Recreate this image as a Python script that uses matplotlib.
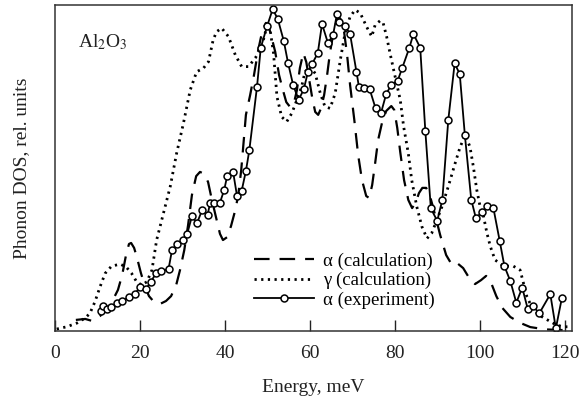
import numpy as np
import matplotlib.pyplot as plt

plt.rcParams['font.family'] = ['Liberation Serif', 'DejaVu Serif']
plt.rcParams['mathtext.fontset'] = 'stix'

# --------------------------------------------------
# DATA
# --------------------------------------------------
# alpha-Al2O3, calculation (dashed)
calc_a_E = [4.9, 7.1, 8.7, 10.6, 12.5, 13.6, 14.8, 15.8, 16.7, 17.4, 17.9, 18.6,
            19.3, 20.2, 21.2, 22.1, 23.3, 24.7, 26.1, 27.3, 28.5, 29.4, 30.4,
            31.3, 32.2, 33.2, 34.1, 35.1, 36.0, 36.9, 37.9, 38.8, 39.5, 40.5,
            41.4, 42.4, 43.1, 43.8, 44.2, 44.9, 45.9, 46.8, 47.8, 48.7, 49.6,
            50.1, 50.8, 51.8, 52.7, 53.6, 54.4, 55.3, 56.2, 56.9, 57.6, 58.4,
            59.1, 59.8, 60.5, 61.2, 61.9, 62.6, 63.3, 64.0, 64.7, 65.6, 66.6,
            67.3, 68.0, 68.7, 69.4, 70.4, 71.3, 72.2, 73.2, 73.9, 74.6, 75.3,
            76.0, 76.9, 77.9, 79.1, 79.8, 80.5, 81.2, 82.1, 83.1, 84.0, 84.9,
            85.6, 86.4, 87.3, 88.2, 89.4, 90.6, 92.0, 93.4, 94.8, 96.0, 97.4,
            98.8, 100.2, 101.4, 102.6, 103.8, 105.2, 107.1, 109.4, 111.8,
            115.3, 118.8, 121.2]
calc_a_dos = [3.4, 3.7, 3.1, 4.6, 7.1, 9.5, 12.6, 17.2, 23.3, 26.7, 27.0, 25.5,
              22.4, 17.8, 13.5, 10.7, 8.9, 8.3, 9.2, 10.7, 14.1, 18.7, 24.8,
              32.5, 41.7, 47.5, 48.8, 48.2, 45.7, 40.2, 34.7, 29.8, 27.9, 28.8,
              32.2, 37.1, 41.7, 49.4, 55.5, 66.3, 72.4, 78.5, 86.2, 91.7, 94.5,
              94.2, 90.8, 85.6, 78.5, 73.9, 70.2, 68.7, 69.9, 73.9, 80.7, 85.3,
              82.5, 77.0, 71.5, 67.2, 66.3, 68.4, 72.4, 78.5, 85.6, 92.3, 96.6,
              95.4, 91.7, 84.7, 75.5, 64.7, 54.0, 46.3, 41.4, 40.8, 44.8, 51.5,
              58.6, 63.8, 67.5, 69.0, 67.8, 62.3, 54.9, 46.3, 40.2, 37.7, 39.6,
              42.3, 43.9, 43.9, 41.4, 35.6, 29.4, 23.3, 20.2, 20.6, 19.3, 16.3,
              14.4, 15.6, 16.9, 14.7, 10.7, 7.1, 4.3, 2.5, 1.2,
              0.5, 0.3, 0.3]

# gamma-Al2O3, calculation (dotted)
calc_g_E = [0.4, 2.75, 5.1, 7.1, 8.2, 9.4, 10.6, 11.8, 13.3, 15.3, 16.7, 18.0,
            19.2, 20.4, 21.6, 22.8, 23.9, 25.5, 27.1, 28.6, 30.2, 31.8, 33.3,
            34.9, 36.1, 37.2, 38.0, 39.2, 40.8, 42.4, 43.9, 45.5, 47.1, 48.6,
            49.8, 50.6, 51.4, 52.2, 53.3, 54.5, 55.7, 56.9, 58.0, 58.8, 60.0,
            61.2, 62.4, 63.5, 64.7, 65.9, 67.1, 68.2, 69.4, 70.6, 71.8, 73.3,
            74.5, 75.3, 76.5, 77.2, 78.0, 78.8, 80.0, 81.2, 82.0, 83.1, 83.9,
            85.1, 86.3, 87.5, 88.6, 89.8, 91.0, 92.5, 94.1, 95.3, 96.5, 97.6,
            98.4, 99.2, 100.0, 100.8, 101.6, 102.4, 103.5, 105.5, 107.8, 109.4,
            110.2, 111.0, 112.5, 114.5, 116.5, 118.0, 119.6, 121.2]
calc_g_dos = [0.6, 1.3, 2.4, 4.0, 5.4, 9.0, 13.6, 17.7, 19.9, 20.5, 19.7, 17.7,
              15.1, 14.1, 15.1, 18.7, 27.9, 36.1, 44.3, 54.5, 63.7, 73.9, 79.5,
              80.6, 82.6, 89.3, 91.8, 92.9, 90.3, 84.7, 81.1, 81.1, 83.7, 87.2,
              93.3, 92.3, 85.2, 71.9, 65.7, 64.2, 66.8, 70.9, 74.9, 79.5, 81.1,
              79.0, 72.9, 68.8, 68.3, 72.9, 83.1, 91.3, 96.4, 98.5, 97.5, 93.3,
              90.3, 93.9, 95.2, 94.4, 90.3, 85.2, 78.0, 70.9, 62.7, 54.5, 46.3,
              38.1, 32.0, 28.4, 30.0, 34.0, 38.1, 44.3, 51.4, 56.5, 60.1, 56.5,
              50.4, 43.3, 38.1, 35.1, 30.0, 25.9, 21.8, 19.9, 19.9, 18.7,
              14.6, 10.5, 6.4, 4.4, 2.9, 1.8, 1.3, 1.3]

# alpha-Al2O3, experiment (circles)
exp_E = [10.8, 11.4, 12.2, 13.2, 14.5, 15.8, 17.3, 18.7, 20.0, 21.4, 22.5, 23.8,
         25.0, 26.7, 27.5, 28.7, 30.0, 31.1, 32.2, 33.4, 34.6, 35.9, 36.5, 37.4,
         38.8, 39.8, 40.5, 41.9, 42.8, 43.9, 44.9, 45.7, 47.5, 48.4, 49.9, 51.2,
         52.4, 53.8, 54.8, 56.0, 57.3, 58.5, 59.5, 60.5, 61.8, 62.8, 64.2, 65.4,
         66.3, 66.7, 68.2, 69.4, 70.9, 71.5, 72.7, 74.0, 75.4, 76.7, 77.9, 79.1,
         80.6, 81.7, 83.3, 84.3, 85.9, 87.1, 88.4, 89.9, 91.1, 92.5, 94.0, 95.2,
         96.4, 97.9, 99.0, 100.5, 101.7, 103.1, 104.6, 105.7, 107.1, 108.5,
         109.9, 111.2, 112.4, 113.9, 116.5, 117.8, 119.2]
exp_dos = [6.1, 7.7, 6.7, 7.4, 8.6, 9.2, 10.4, 11.3, 13.4, 12.8, 15.1, 17.7,
           18.4, 19.0, 24.7, 26.7, 27.8, 29.8, 35.2, 33.1, 37.1, 35.7, 39.4, 39.4,
           39.4, 43.3, 47.6, 48.7, 41.5, 43.0, 49.1, 55.4, 74.8, 86.9, 93.6, 98.7,
           95.7, 89.0, 82.3, 75.5, 70.9, 74.1, 79.5, 82.0, 85.2, 94.2, 88.3, 90.8,
           97.1, 94.8, 93.6, 91.1, 79.5, 74.8, 74.4, 74.2, 68.3, 67.0, 72.7, 75.5,
           76.8, 80.8, 86.7, 91.1, 86.9, 61.4, 37.6, 33.8, 40.2, 64.7, 82.1, 78.8,
           60.1, 40.3, 34.6, 36.6, 38.4, 37.8, 27.6, 19.9, 15.3, 8.7,
           13.3, 6.7, 7.7, 5.4, 11.3, 0.8, 10.0]

x_ticks = [0, 20, 40, 60, 80, 100, 120]

# --------------------------------------------------
# FIGURE
# --------------------------------------------------
fig = plt.figure(figsize=(5.81, 4.05), dpi=100)
ax = fig.add_axes([0.0947, 0.1827, 0.8898, 0.805])

ax.plot(calc_a_E, calc_a_dos, color="black", linewidth=1.6,
        linestyle=(0, (7, 4.5)), label="α (calculation)")
ax.plot(calc_g_E, calc_g_dos, color="black", linewidth=2.0,
        linestyle=(0, (0.8, 1.6)), label="γ (calculation)")
ax.plot(exp_E, exp_dos, color="black", linewidth=1.3, marker="o",
        markersize=5, markerfacecolor="white", markeredgecolor="black",
        markeredgewidth=1.1, label="α (experiment)")

ax.set_xlim(0, 121.6)
ax.set_ylim(0, 100)
ax.set_xticks(x_ticks)
ax.set_yticks([])
ax.tick_params(axis="x", direction="in", length=8, width=1.0,
               labelsize=14, pad=10, colors="#222222")
for s in ax.spines.values():
    s.set_linewidth(1.1)
    s.set_color("#333333")

ax.set_xlabel("Energy, meV", fontsize=14, color="#222222", labelpad=12)
ax.set_ylabel("Phonon DOS, rel. units", fontsize=14, color="#222222",
              labelpad=18)

ax.text(0.045, 0.87, r"Al$_2$O$_3$", transform=ax.transAxes,
        fontsize=14, color="#222222")

ax.legend(loc="lower left", bbox_to_anchor=(0.37, 0.045), frameon=False,
          fontsize=13.5, handlelength=3.2, handletextpad=0.5,
          labelspacing=0.12, borderaxespad=0)

fig.savefig("out.png", dpi=100)
